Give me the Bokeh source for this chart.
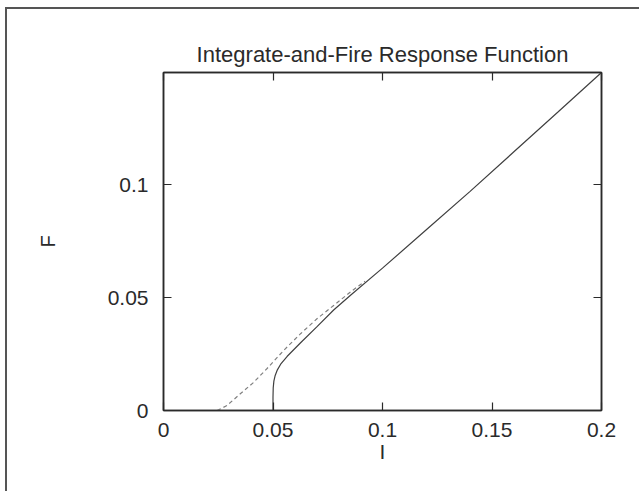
from bokeh.plotting import figure
from bokeh.models import FixedTicker, LinearAxis, Range1d
from bokeh.embed import file_html
from bokeh.resources import INLINE

# Firing rate F versus input current I
solid_I = [0.0, 0.05, 0.05, 0.0501, 0.0504, 0.0510, 0.0520, 0.0535, 0.0565, 0.0626,
           0.0700, 0.0777, 0.0854, 0.100, 0.120, 0.140, 0.160, 0.180, 0.200]
solid_F = [0.0, 0.0, 0.006, 0.010, 0.013, 0.0155, 0.018, 0.0205, 0.024, 0.030,
           0.037, 0.0445, 0.051, 0.063, 0.080, 0.097, 0.1145, 0.132, 0.1496]

dashed_I = [0.0245, 0.029, 0.0352, 0.0411, 0.0473, 0.0548, 0.0626, 0.0702, 0.0777, 0.0854, 0.092]
dashed_F = [0.0, 0.0022, 0.0075, 0.0124, 0.0186, 0.0265, 0.034, 0.0407, 0.0465, 0.0525, 0.0572]

x_ticks = [0, 0.05, 0.1, 0.15, 0.2]
x_labels = ["0", "0.05", "0.1", "0.15", "0.2"]
y_ticks = [0, 0.05, 0.1]
y_labels = ["0", "0.05", "0.1"]

FONT = "Liberation Sans"
INK = "#2a2a2a"

p = figure(width=634, height=484, output_backend="svg", toolbar_location=None,
           x_range=Range1d(0, 0.2), y_range=Range1d(0, 0.1496),
           min_border_left=156, min_border_right=40, min_border_top=63,
           min_border_bottom=83, x_axis_location=None, y_axis_location=None,
           margin=(7, 0, 0, 5))
p.styles = {"border-left": "2px solid #555", "border-top": "2px solid #555"}

p.title.text = "Integrate-and-Fire Response Function"
p.title.text_font = FONT
p.title.text_font_size = "22px"
p.title.text_font_style = "normal"
p.title.text_color = INK
p.title.align = "center"
p.title.standoff = 12

p.grid.visible = False
p.outline_line_color = INK
p.outline_line_width = 1.5
p.background_fill_color = "white"
p.border_fill_color = "white"

def style_axis(ax, ticks, labels, show_labels):
    ax.ticker = FixedTicker(ticks=ticks)
    ax.major_tick_in = 8
    ax.major_tick_out = 0
    ax.minor_tick_in = 0
    ax.minor_tick_out = 0
    ax.major_tick_line_color = INK
    ax.major_tick_line_width = 1.2
    ax.axis_line_color = INK
    ax.axis_line_width = 1.5
    ax.major_label_text_font = FONT
    ax.major_label_text_color = INK
    if show_labels:
        ax.major_label_overrides = {t: l for t, l in zip(ticks, labels)}
        ax.major_label_text_font_size = "21px"
    else:
        ax.major_label_overrides = {t: "" for t in ticks}
        ax.major_label_text_font_size = "1px"
        ax.major_label_standoff = 0

xb = LinearAxis()
style_axis(xb, x_ticks, x_labels, True)
xb.major_label_standoff = 12
xb.axis_label = "I"
xb.axis_label_text_font = FONT
xb.axis_label_text_font_size = "21px"
xb.axis_label_text_font_style = "normal"
xb.axis_label_text_color = INK
xb.axis_label_standoff = 0
p.add_layout(xb, "below")

yl = LinearAxis()
style_axis(yl, y_ticks, y_labels, True)
yl.major_label_standoff = 15
yl.axis_label = "F"
yl.axis_label_text_font = FONT
yl.axis_label_text_font_size = "20px"
yl.axis_label_text_font_style = "normal"
yl.axis_label_text_color = INK
yl.axis_label_standoff = 46
p.add_layout(yl, "left")

xt = LinearAxis()
style_axis(xt, x_ticks, x_labels, False)
p.add_layout(xt, "above")

yr = LinearAxis()
style_axis(yr, y_ticks, y_labels, False)
p.add_layout(yr, "right")

p.line(solid_I, solid_F, line_color="#404040", line_width=1.2)
p.line(dashed_I, dashed_F, line_color="#808080", line_width=1.2, line_dash="4 3")

open("out.html", "w").write(file_html(p, INLINE))
